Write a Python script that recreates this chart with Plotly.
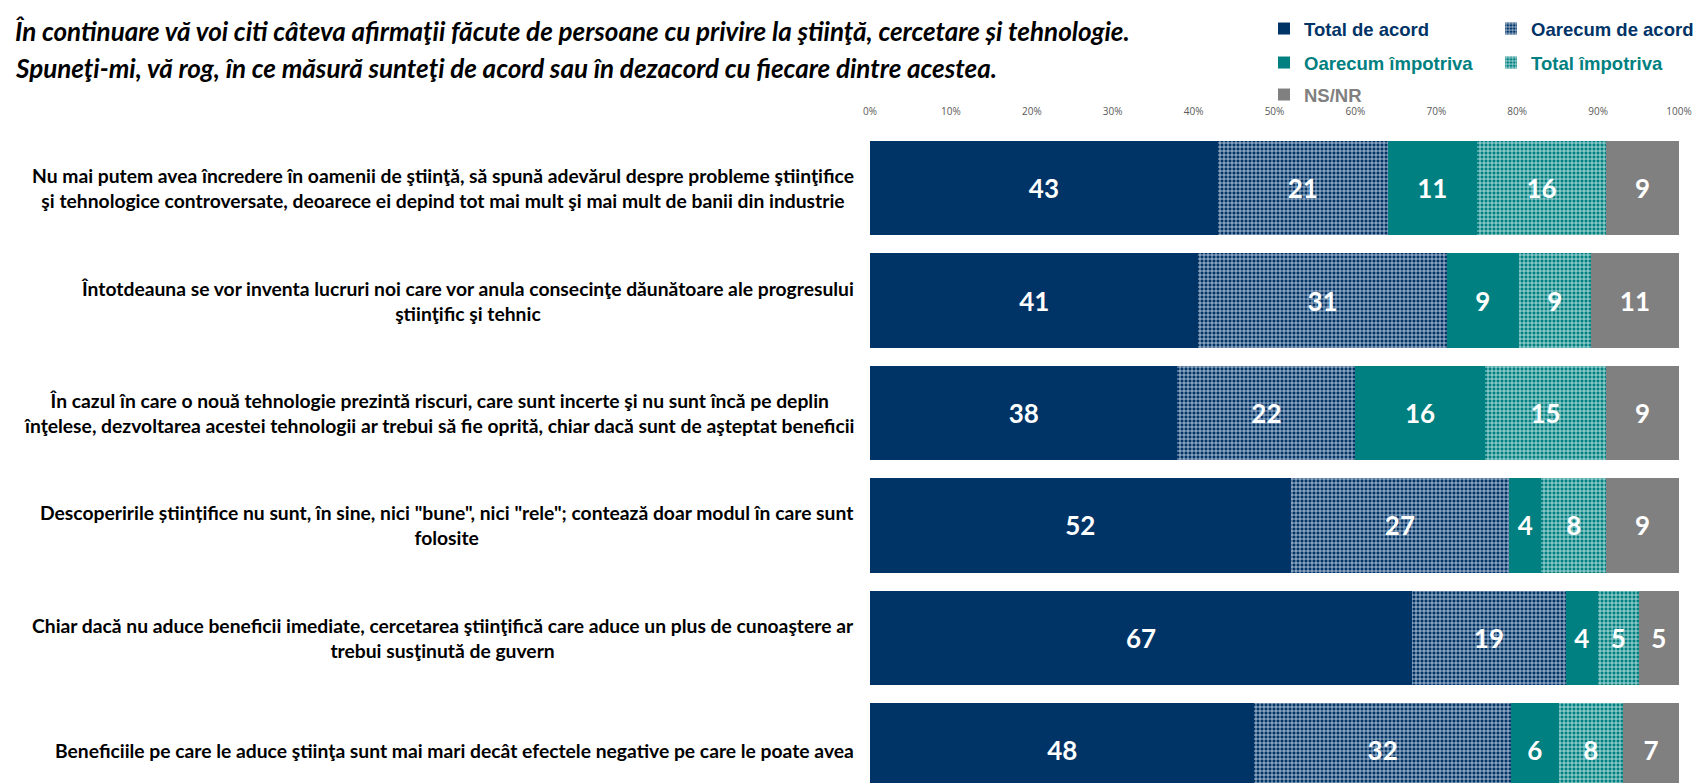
import plotly.graph_objects as go

# ---------------- data ----------------
statements = [
    "Nu mai putem avea încredere în oamenii de ştiinţă, să spună adevărul despre probleme ştiinţifice<br>şi tehnologice controversate, deoarece ei depind tot mai mult şi mai mult de banii din industrie",
    "Întotdeauna se vor inventa lucruri noi care vor anula consecinţe dăunătoare ale progresului<br>ştiinţific şi tehnic",
    "În cazul în care o nouă tehnologie prezintă riscuri, care sunt incerte şi nu sunt încă pe deplin<br>înţelese, dezvoltarea acestei tehnologii ar trebui să fie oprită, chiar dacă sunt de aşteptat beneficii",
    "Descoperirile științifice nu sunt, în sine, nici \"bune\", nici \"rele\"; contează doar modul în care sunt<br>folosite",
    "Chiar dacă nu aduce beneficii imediate, cercetarea ştiinţifică care aduce un plus de cunoaştere ar<br>trebui susţinută de guvern",
    "Beneficiile pe care le aduce ştiinţa sunt mai mari decât efectele negative pe care le poate avea",
]
series_names = ["Total de acord", "Oarecum de acord", "Oarecum împotriva", "Total împotriva", "NS/NR"]
total_de_acord = [43, 41, 38, 52, 67, 48]
oarecum_de_acord = [21, 31, 22, 27, 19, 32]
oarecum_impotriva = [11, 9, 16, 4, 4, 6]
total_impotriva = [16, 9, 15, 8, 5, 8]
ns_nr = [9, 11, 9, 9, 5, 7]
x_tick_values = [0, 10, 20, 30, 40, 50, 60, 70, 80, 90, 100]
x_tick_labels = ["0%", "10%", "20%", "30%", "40%", "50%", "60%", "70%", "80%", "90%", "100%"]
title_lines = [
    "În continuare vă voi citi câteva afirmaţii făcute de persoane cu privire la ştiinţă, cercetare și tehnologie.",
    "Spuneţi-mi, vă rog, în ce măsură sunteţi de acord sau în dezacord cu fiecare dintre acestea.",
]

# ---------------- style ----------------
W, H = 1701, 783
ML, MR, MT, MB = 862, 30, 125, 0
NAVY = "#003366"
TEAL = "#008080"
GRAY = "#808080"
FONT = "Lato"

series_values = [total_de_acord, oarecum_de_acord, oarecum_impotriva, total_impotriva, ns_nr]
series_styles = [
    dict(color=NAVY),
    dict(color=NAVY, pattern=dict(shape="+", fgcolor="#d8e2f0", bgcolor=NAVY, size=4, solidity=0.35, fillmode="replace")),
    dict(color=TEAL),
    dict(color=TEAL, pattern=dict(shape="+", fgcolor="#d8f0ee", bgcolor=TEAL, size=4, solidity=0.35, fillmode="replace")),
    dict(color=GRAY),
]
series_legends = ["legend", "legend", "legend2", "legend2", "legend3"]

ypos = list(range(len(statements)))

fig = go.Figure()
for name, vals, st, lg in zip(series_names, series_values, series_styles, series_legends):
    fig.add_trace(go.Bar(
        y=ypos, x=vals, orientation="h", name=name,
        text=[str(v) for v in vals], texttemplate="%{text}",
        textposition="inside", insidetextanchor="middle",
        textfont=dict(family=FONT, size=26, color="white", weight="bold"),
        marker=dict(line=dict(width=0), **st),
        width=0.84, legend=lg, hoverinfo="skip",
    ))

# pixel helpers for layout placement
plot_w = W - ML - MR
plot_h = H - MT - MB
def px_to_paper_x(px):
    return (px - ML) / plot_w
def py_to_paper_y(py):
    return (H - MB - py) / plot_h

# y range: bar 1 center, pitch in px
c0, pitch = 180.2, 112.4
y_top = (MT - c0) / pitch
y_bot = (H - MB - c0) / pitch

for i, s in enumerate(statements):
    fig.add_annotation(
        x=px_to_paper_x(848), xref="paper", xanchor="right",
        y=ypos[i], yref="y", yanchor="middle",
        text=s, showarrow=False, align="center",
        font=dict(family=FONT, size=19.3, color="#000000", weight="bold"),
    )

for line, py in zip(title_lines, [23, 60]):
    fig.add_annotation(
        x=px_to_paper_x(5), xref="paper", xanchor="left",
        y=py_to_paper_y(py), yref="paper", yanchor="middle",
        text=line, showarrow=False, align="left",
        font=dict(family=FONT, size=26, color="#000000", weight="bold", style="italic"),
    )

legend_common = dict(orientation="h", xanchor="left", yanchor="middle",
                     bgcolor="rgba(0,0,0,0)", borderwidth=0, entrywidth=182,
                     traceorder="normal", itemclick=False, itemdoubleclick=False)
lx = px_to_paper_x(1256)
LFONT = "Liberation Sans"
LSIZE = 18.5
fig.update_layout(
    width=W, height=H,
    margin=dict(l=ML, r=MR, t=MT, b=MB, autoexpand=False),
    paper_bgcolor="white", plot_bgcolor="white",
    barmode="stack", barnorm="percent",
    uniformtext=dict(mode="show", minsize=26),
    showlegend=True,
    legend=dict(x=lx, y=py_to_paper_y(21), font=dict(family=LFONT, size=LSIZE, color=NAVY, weight="bold"), **legend_common),
    legend2=dict(x=lx, y=py_to_paper_y(55), font=dict(family=LFONT, size=LSIZE, color=TEAL, weight="bold"), **legend_common),
    legend3=dict(x=lx, y=py_to_paper_y(87), font=dict(family=LFONT, size=LSIZE, color=GRAY, weight="bold"), **legend_common),
    xaxis=dict(side="top", range=[0, 100], tickvals=x_tick_values, ticktext=x_tick_labels,
               showgrid=False, zeroline=False, showline=False, ticks="",
               tickfont=dict(family="Open Sans", size=10, color="#595959"),
               ticklabelstandoff=15, fixedrange=True),
    yaxis=dict(range=[y_bot, y_top], showticklabels=False, showgrid=False, zeroline=False,
               showline=False, ticks="", fixedrange=True),
)

fig.write_html("out.html")
